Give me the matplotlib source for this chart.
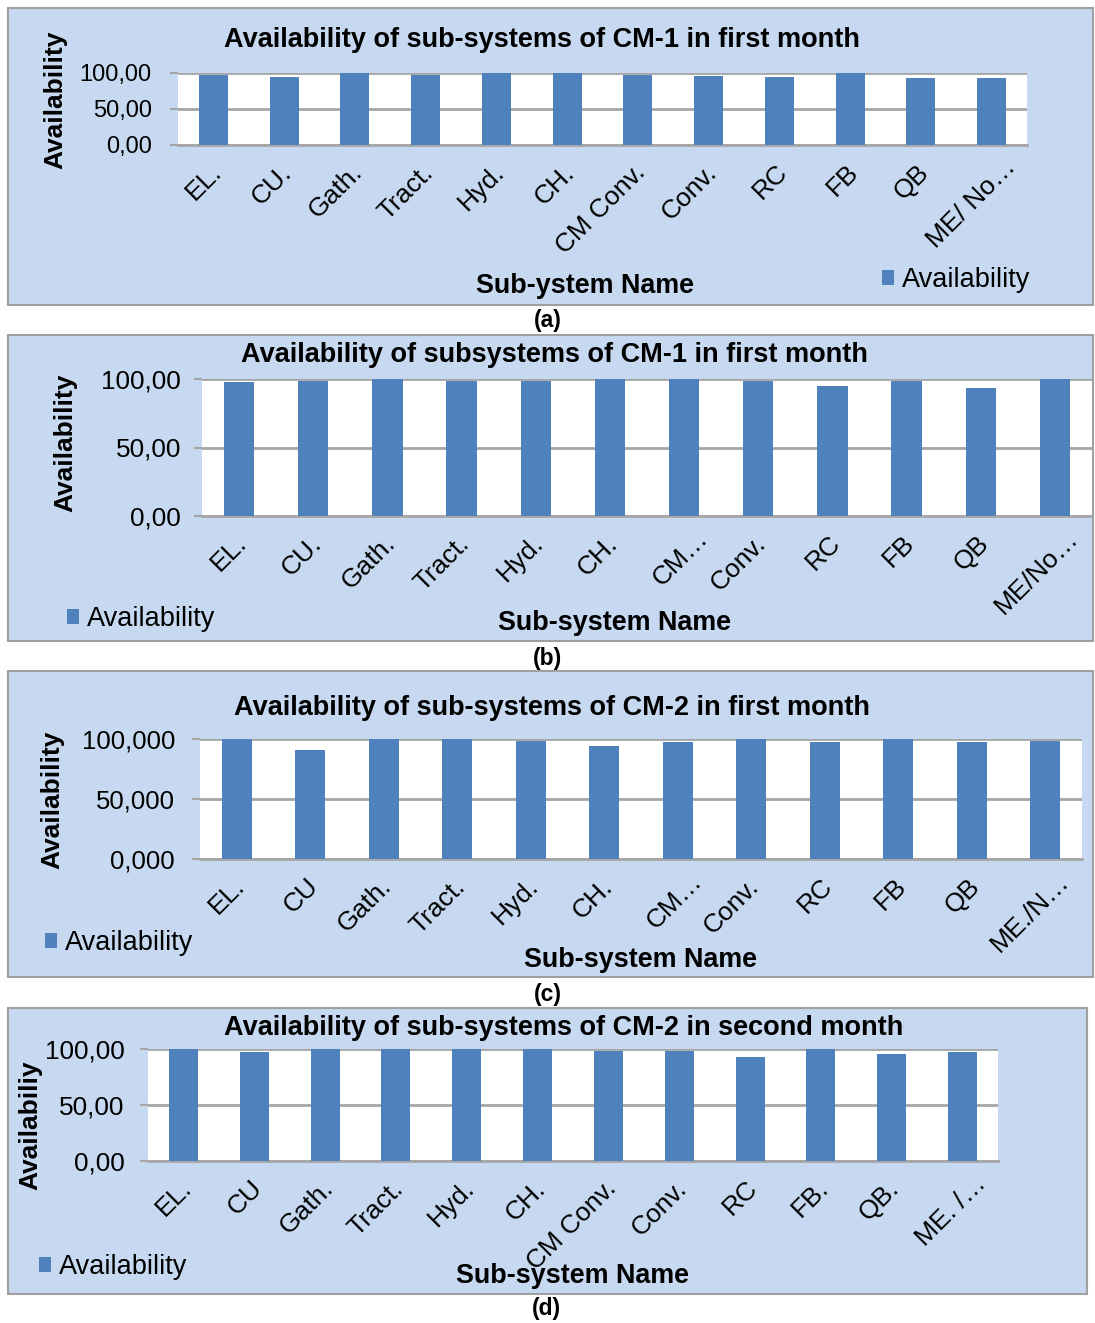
import matplotlib
matplotlib.use("Agg")
import matplotlib.pyplot as plt
from matplotlib.patches import Rectangle
from matplotlib.transforms import ScaledTranslation

plt.rcParams['font.family'] = ['Liberation Sans', 'DejaVu Sans']

# ---------------- data ----------------
labels_a = ["EL.", "CU.", "Gath.", "Tract.", "Hyd.", "CH.", "CM Conv.", "Conv.", "RC", "FB", "QB", "ME/ No…"]
values_a = [97.2, 94.5, 100.0, 97.2, 100.0, 99.5, 97.2, 95.9, 94.0, 100.0, 93.0, 93.5]
yticks_a = ["0,00", "50,00", "100,00"]

labels_b = ["EL.", "CU.", "Gath.", "Tract.", "Hyd.", "CH.", "CM…", "Conv.", "RC", "FB", "QB", "ME/No…"]
values_b = [98.0, 98.5, 100.0, 98.3, 98.5, 100.0, 100.0, 98.8, 94.9, 98.5, 93.4, 100.0]
yticks_b = ["0,00", "50,00", "100,00"]

labels_c = ["EL.", "CU", "Gath.", "Tract.", "Hyd.", "CH.", "CM…", "Conv.", "RC", "FB", "QB", "ME./N…"]
values_c = [99.8, 90.9, 100.0, 100.0, 98.1, 94.5, 97.8, 99.7, 97.2, 100.0, 97.2, 98.3]
yticks_c = ["0,000", "50,000", "100,000"]

labels_d = ["EL.", "CU", "Gath.", "Tract.", "Hyd.", "CH.", "CM Conv.", "Conv.", "RC", "FB.", "QB.", "ME. /…"]
values_d = [99.7, 97.0, 100.0, 100.0, 100.0, 100.0, 97.9, 98.5, 92.8, 100.0, 95.8, 97.3]
yticks_d = ["0,00", "50,00", "100,00"]

titles = ["Availability of sub-systems of CM-1 in first month",
          "Availability of subsystems of CM-1 in first month",
          "Availability of sub-systems of CM-2 in first month",
          "Availability of sub-systems of CM-2 in second month"]
xlabels = ["Sub-ystem Name", "Sub-system Name", "Sub-system Name", "Sub-system Name"]
ylabels = ["Availability", "Availability", "Availability", "Availabiliy"]
captions = ["(a)", "(b)", "(c)", "(d)"]
series_name = "Availability"

# ---------------- layout ----------------
W, H = 1095, 1323
DPI = 100
fig = plt.figure(figsize=(W / DPI, H / DPI), dpi=DPI)
fig.patch.set_facecolor('white')

BG = '#c6d9f0'
BAR = '#4f81bd'
GRID = '#a6a6a6'

def fx(x):
    return x / W

def fy(y):
    return 1 - y / H

panels = [
    dict(box=(8, 8, 1093, 305), plot=(178, 73, 1027, 145), labels=labels_a, values=values_a, yt=yticks_a,
         title=(542, 40), xlab=(585, 286), ylab=(55, 100), cap=(548, 321), leg=(882, 280),
         yfs=17, ypad=13),
    dict(box=(8, 335, 1093, 641), plot=(202, 379, 1092, 516), labels=labels_b, values=values_b, yt=yticks_b,
         title=(554, 355), xlab=(615, 623), ylab=(65, 443), cap=(548, 658), leg=(67, 619),
         yfs=18.8, ypad=9),
    dict(box=(8, 671, 1093, 977), plot=(200, 739, 1082, 859), labels=labels_c, values=values_c, yt=yticks_c,
         title=(552, 708), xlab=(641, 960), ylab=(52, 800), cap=(548, 994), leg=(45, 943),
         yfs=18.5, ypad=12),
    dict(box=(8, 1008, 1087, 1294), plot=(148, 1049, 998, 1161), labels=labels_d, values=values_d, yt=yticks_d,
         title=(564, 1028), xlab=(573, 1276), ylab=(30, 1125), cap=(546, 1309), leg=(39, 1267),
         yfs=18.8, ypad=11),
]

for i, p in enumerate(panels):
    x0, y0, x1, y1 = p['box']
    fig.patches.append(Rectangle((fx(x0), fy(y1)), (x1 - x0) / W, (y1 - y0) / H,
                                 transform=fig.transFigure, facecolor=BG,
                                 edgecolor='#a0a0a0', linewidth=1.5, zorder=-5))
    px0, py0, px1, py1 = p['plot']
    ax = fig.add_axes([fx(px0), fy(py1), (px1 - px0) / W, (py1 - py0) / H])
    ax.set_zorder(2)
    ax.set_facecolor('white')
    n = len(p['values'])
    bars = ax.bar(range(n), p['values'], width=0.41, color=BAR, zorder=3, label=series_name)
    ax.set_xlim(-0.5, n - 0.5)
    ax.set_ylim(0, 100)
    ax.set_yticks([0, 50, 100])
    ax.set_yticklabels(p['yt'], fontsize=p['yfs'])
    ax.set_xticks(range(n))
    ax.tick_params(axis='x', length=0, pad=17)
    ax.tick_params(axis='y', length=6, width=1.5, color=GRID, pad=p['ypad'])
    ax.set_xticklabels(p['labels'], rotation=45, ha='right', va='center',
                       rotation_mode='anchor', fontsize=19)
    # Excel renders the ellipsis narrower; nudge labels to match reference placement
    for lab in ax.get_xticklabels():
        if lab.get_text().endswith('…'):
            dx, dy = 20, 5
        else:
            dx, dy = 4, 0
        lab.set_transform(lab.get_transform() +
                          ScaledTranslation(dx / DPI, dy / DPI, fig.dpi_scale_trans))
    ax.yaxis.grid(True, color=GRID, linewidth=2, zorder=1)
    ax.set_axisbelow(True)
    for s in ax.spines.values():
        s.set_visible(False)
    ax.spines['bottom'].set_visible(True)
    ax.spines['bottom'].set_color(GRID)
    ax.spines['bottom'].set_linewidth(2)

    fig.text(fx(p['title'][0]), fy(p['title'][1]), titles[i], ha='center', va='center',
             fontsize=19.5, fontweight='bold', zorder=5)
    fig.text(fx(p['xlab'][0]), fy(p['xlab'][1]), xlabels[i], ha='center', va='center',
             fontsize=19.4, fontweight='bold', zorder=5)
    fig.text(fx(p['ylab'][0]), fy(p['ylab'][1]), ylabels[i], ha='center', va='center',
             rotation=90, fontsize=19, fontweight='bold', zorder=5)
    fig.text(fx(p['cap'][0]), fy(p['cap'][1]), captions[i], ha='center', va='center',
             fontsize=16.5, fontweight='bold', zorder=5)
    ax.legend(handles=[bars], labels=[series_name], loc='center left',
              bbox_to_anchor=(fx(p['leg'][0]), fy(p['leg'][1])), bbox_transform=fig.transFigure,
              frameon=False, fontsize=19.5, handlelength=0.45, handleheight=0.45,
              handletextpad=0.3, borderpad=0, borderaxespad=0)

fig.savefig('out.png', dpi=DPI)
